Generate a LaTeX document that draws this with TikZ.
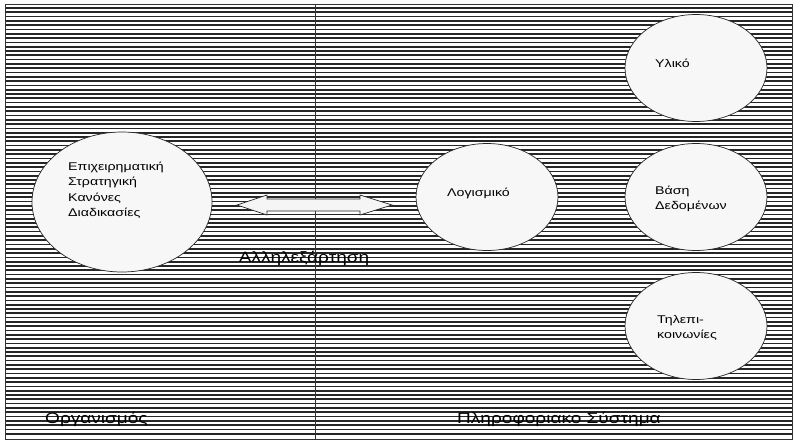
\documentclass[tikz,border=0pt]{standalone}
\usepackage{fontspec}
\setmainfont[FakeStretch=1.27]{Liberation Sans}
\usetikzlibrary{shapes.geometric}
\begin{document}
\begin{tikzpicture}[x=1pt,y=-1pt,line cap=butt,line join=miter]
\colorlet{hatchc}{black!85}
\colorlet{ovalc}{gray!6}

\tikzset{
frame/.style={draw=black!80, line width=0.8pt},
hatch/.style={draw=hatchc, line width=1.75pt},
oval/.style={ellipse, draw=black!85, line width=0.7pt, fill=ovalc, minimum width=142pt, minimum height=107pt, inner sep=0pt},
bigoval/.style={oval, minimum width=180pt, minimum height=140pt},
ovaltext/.style={anchor=west, align=left, inner sep=0pt, font=\fontsize{11.2}{15.5}\selectfont},
zonelabel/.style={inner sep=0pt, font=\fontsize{15}{18}\selectfont},
deparrow/.style={draw=black!85, line width=0.7pt, fill=gray!8}
}

\useasboundingbox (0,0) rectangle (795,442);
\fill[white] (0,0) rectangle (795,442);

% horizontal hatching over the whole panel
\foreach \y in {8,12.3,...,438}
  \draw[hatch] (5,\y) -- (792,\y);

\draw[frame] (5,4) rectangle (792,439);
\draw[frame] (315,4) -- (315,439);

% organisation side
\node[bigoval] (org) at (122,202) {};
\node[ovaltext] (orgtext) at (68,190) {Επιχειρηματική\\Στρατηγική\\Κανόνες\\Διαδικασίες};

% information system side
\node[oval] (hw) at (696,68) {};
\node[ovaltext] (hwtext) at (655,63) {Υλικό};
\node[oval] (sw) at (487,197) {};
\node[ovaltext] (swtext) at (447,193) {Λογισμικό};
\node[oval] (db) at (696,197) {};
\node[ovaltext] (dbtext) at (655,199) {Βάση\\Δεδομένων};
\node[oval] (tel) at (696,326) {};
\node[ovaltext] (teltext) at (657,328) {Τηλεπι-\\κοινωνίες};

% two-way arrow between the two sides
\draw[deparrow] (237,205) -- (267,195) -- (267,199) -- (360,199) -- (360,195)
  -- (392,205) -- (360,215) -- (360,211) -- (267,211) -- (267,215) -- cycle;
\node[zonelabel] (dep) at (304,258) {Αλληλεξάρτηση};

\node[zonelabel, anchor=west] (orglabel) at (45,419) {Οργανισμός};
\node[zonelabel, anchor=west] (islabel) at (457,419) {Πληροφοριακο Σύστημα};
\end{tikzpicture}
\end{document}
